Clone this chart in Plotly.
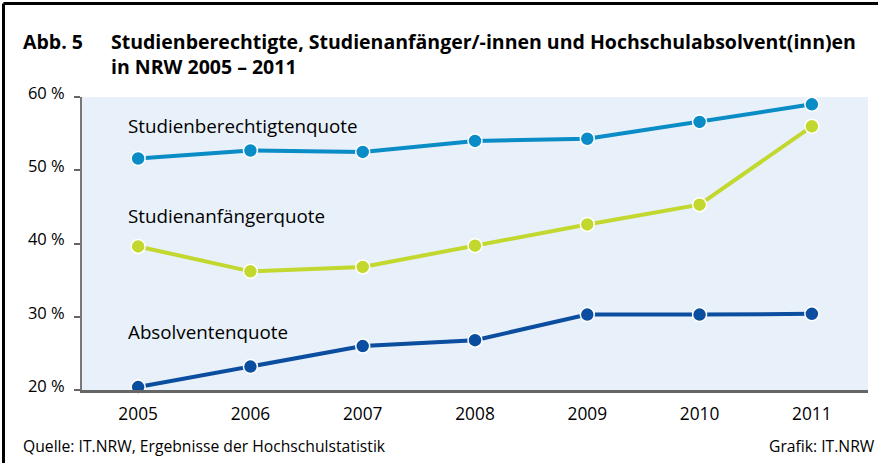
import plotly.graph_objects as go

years = [2005, 2006, 2007, 2008, 2009, 2010, 2011]
studienberechtigte = [51.6, 52.7, 52.5, 54.0, 54.3, 56.6, 59.0]
studienanfaenger = [39.6, 36.2, 36.8, 39.7, 42.6, 45.3, 56.0]
absolventen = [20.4, 23.2, 26.0, 26.8, 30.3, 30.3, 30.4]
y_ticks = [20, 30, 40, 50, 60]
y_tick_labels = ["20 %", "30 %", "40 %", "50 %", "60 %"]

W, H = 878, 463
L, R, T, B = 82, 868, 97, 390


def px(x):
    return (x - L) / (R - L)


def py(y):
    return (B - y) / (B - T)


fig = go.Figure()
series = [
    ("Studienberechtigtenquote", studienberechtigte, "#0a8cc6"),
    ("Studienanfängerquote", studienanfaenger, "#c2d82e"),
    ("Absolventenquote", absolventen, "#0b4d9f"),
]
for name, vals, col in series:
    fig.add_trace(go.Scatter(
        x=years, y=vals, mode="lines+markers", name=name,
        line=dict(color=col, width=4),
        marker=dict(size=14, color=col, line=dict(color="white", width=1.5)),
        cliponaxis=False, showlegend=False, hoverinfo="skip",
    ))

main_font = "Open Sans, Liberation Sans, sans-serif"


def ann(text, x, y, size, anchor="left"):
    return dict(text=text, x=px(x), y=py(y), xref="paper", yref="paper",
                xanchor=anchor, yanchor="middle", showarrow=False,
                font=dict(family=main_font, size=size, color="black"))


annotations = [
    ann("<b>Abb. 5</b>", 21, 41, 19.5),
    ann("<b>Studienberechtigte, Studienanfänger/-innen und Hochschulabsolvent(inn)en</b>", 109, 41, 19.5),
    ann("<b>in NRW 2005 – 2011</b>", 109, 66, 19.5),
    ann("Quelle: IT.NRW, Ergebnisse der Hochschulstatistik", 21, 446, 15.7),
    ann("Grafik: IT.NRW", 877, 446, 15.7, anchor="right"),
    ann("Studienberechtigtenquote", 126, 126, 18.8),
    ann("Studienanfängerquote", 126, 216, 18.8),
    ann("Absolventenquote", 126, 332, 18.8),
]

shapes = [
    dict(type="line", xref="paper", yref="paper", x0=px(3.5), x1=px(890), y0=py(3.5), y1=py(3.5),
         line=dict(color="black", width=3)),
    dict(type="line", xref="paper", yref="paper", x0=px(3.5), x1=px(3.5), y0=py(3.5), y1=py(480),
         line=dict(color="black", width=3)),
]

fig.update_layout(
    width=W, height=H,
    margin=dict(l=L, r=W - R, t=T, b=H - B, pad=0),
    paper_bgcolor="white", plot_bgcolor="#e8f0f9",
    annotations=annotations, shapes=shapes,
    font=dict(family=main_font, color="black"),
    hovermode=False,
    xaxis=dict(range=[2004.5, 2011.5], tickvals=years, ticktext=[str(y) for y in years],
               showgrid=False, zeroline=False, showline=True, linecolor="#666666",
               linewidth=3, ticks="", ticklabelstandoff=6,
               tickfont=dict(size=17.3, family=main_font), fixedrange=True),
    yaxis=dict(range=[20, 60], tickvals=y_ticks, ticktext=y_tick_labels,
               showgrid=False, zeroline=False, showline=True, linecolor="#777777",
               linewidth=2, ticks="outside", ticklen=6, tickcolor="#666666", tickwidth=1.5,
               ticklabelstandoff=6, ticklabelshift=-4,
               tickfont=dict(size=16.5, family=main_font), fixedrange=True),
)

fig.write_html("out.html", config={"displayModeBar": False},
               post_script="document.body.style.margin='0';document.body.style.overflow='hidden';")
